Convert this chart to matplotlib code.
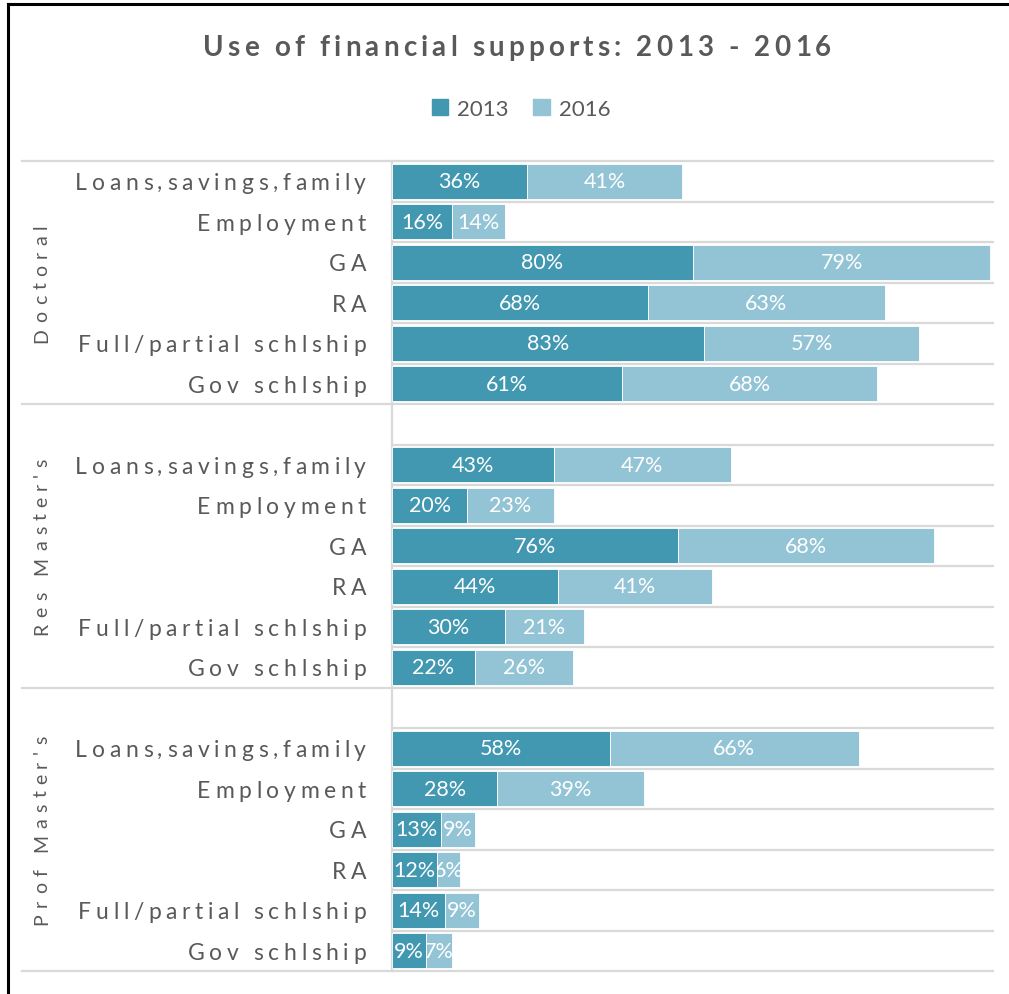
import matplotlib
matplotlib.use("Agg")
import matplotlib.pyplot as plt
import matplotlib.transforms as mtransforms
from matplotlib.font_manager import FontProperties
from matplotlib.patches import Patch
from matplotlib.lines import Line2D

groups = ["Doctoral", "Res Master's", "Prof Master's"]
categories = ["Loans,savings,family", "Employment", "GA", "RA",
              "Full/partial schlship", "Gov schlship"]
years = ["2013", "2016"]

doctoral_2013 = [36, 16, 80, 68, 83, 61]
doctoral_2016 = [41, 14, 79, 63, 57, 68]
res_2013 = [43, 20, 76, 44, 30, 22]
res_2016 = [47, 23, 68, 41, 21, 26]
prof_2013 = [58, 28, 13, 12, 14, 9]
prof_2016 = [66, 39, 9, 6, 9, 7]

title = "Use of financial supports: 2013 - 2016"

DARK = "#4198B0"
LIGHT = "#93C4D5"
TEXT = "#595959"
GRID = "#D9D9D9"

plt.rcParams["font.family"] = ["Lato", "DejaVu Sans"]

W, H, DPI = 1009, 995, 100
fig = plt.figure(figsize=(W / DPI, H / DPI), dpi=DPI)
renderer = fig.canvas.get_renderer()

ax = fig.add_axes([392 / W, 23 / H, 602 / W, 810 / H])
ax.set_xlim(0, 160)
ax.set_ylim(20, 0)
ax.set_xticks([])
ax.set_yticks([])
for side in ["top", "right", "bottom"]:
    ax.spines[side].set_visible(False)
ax.spines["left"].set_color(GRID)
ax.spines["left"].set_linewidth(1.6)

label_fp = FontProperties(family="Lato", size=15.5)


def add_value_label(rect, value):
    x = rect.get_x() + rect.get_width() / 2
    y = rect.get_y() + rect.get_height() / 2
    t = ax.text(x, y, f"{value}%", ha="center", va="center",
                color="white", fontproperties=label_fp, zorder=4)
    t.set_clip_box(mtransforms.TransformedBbox(rect.get_bbox(), ax.transData))
    t.set_clip_on(True)


series = [(doctoral_2013, doctoral_2016), (res_2013, res_2016),
          (prof_2013, prof_2016)]
for gi, (v13, v16) in enumerate(series):
    rows = [gi * 7 + i + 0.5 for i in range(len(categories))]
    bars13 = ax.barh(rows, v13, height=0.86, color=DARK,
                     edgecolor="white", linewidth=0.6, zorder=3)
    bars16 = ax.barh(rows, v16, left=v13, height=0.86, color=LIGHT,
                     edgecolor="white", linewidth=0.6, zorder=3)
    for rect, v in zip(bars13, v13):
        add_value_label(rect, v)
    for rect, v in zip(bars16, v16):
        add_value_label(rect, v)

# row separators across the plot area
ax.hlines(range(21), 0, 160, color=GRID, linewidth=1.6, zorder=1,
          clip_on=False)

# group separators run on into the label column
lab_trans = mtransforms.blended_transform_factory(fig.transFigure, ax.transData)
for yb in [0, 6, 13, 20]:
    ax.plot([22 / W, 392 / W], [yb, yb], transform=lab_trans, color=GRID,
            linewidth=1.6, clip_on=False, zorder=1)


def advance(text, fp):
    w_ref = renderer.get_text_width_height_descent("||", fp, ismath=False)[0]
    w = renderer.get_text_width_height_descent("|" + text + "|", fp,
                                               ismath=False)[0]
    return w - w_ref


def spaced_text(x, y, trans, s, fp, track, align="right", vertical=False,
                base_shift=0.0, color=TEXT):
    widths = [advance(c, fp) for c in s]
    total = sum(widths) + track * (len(s) - 1)
    if align == "right":
        pos = -total
    elif align == "center":
        pos = -total / 2
    else:
        pos = 0.0
    for c, w in zip(s, widths):
        if vertical:
            off = mtransforms.offset_copy(trans, fig=fig, x=base_shift, y=pos,
                                          units="dots")
            rot = 90
        else:
            off = mtransforms.offset_copy(trans, fig=fig, x=pos, y=base_shift,
                                          units="dots")
            rot = 0
        fig.text(x, y, c, transform=off, fontproperties=fp, color=color,
                 ha="left", va="baseline", rotation=rot,
                 rotation_mode="anchor")
        pos += w + track


cat_fp = FontProperties(family="Lato", size=16.5)
for gi in range(len(groups)):
    for ci, cat in enumerate(categories):
        spaced_text(366 / W, gi * 7 + ci + 0.5, lab_trans, cat, cat_fp,
                    track=4.6, align="right", base_shift=-8)

grp_fp = FontProperties(family="Lato", size=14)
for name, yc in zip(groups, [3, 9.5, 16.5]):
    spaced_text(47 / W, yc, lab_trans, name, grp_fp, track=6.2,
                align="center", vertical=True)

title_fp = FontProperties(family="Lato", size=20, weight="bold")
spaced_text(517 / W, (H - 56) / H, fig.transFigure, title, title_fp,
            track=4.2, align="center")

fig.legend(handles=[Patch(color=DARK), Patch(color=LIGHT)], labels=years,
           loc="center", bbox_to_anchor=(521 / W, (H - 110) / H), ncol=2,
           frameon=False, fontsize=16, labelcolor=TEXT, handlelength=0.75,
           handleheight=0.75, handletextpad=0.4, columnspacing=1.1)

# outer frame edges
fig.add_artist(Line2D([8 / W, 8 / W], [0, (H - 5) / H], color="black",
                      linewidth=2.2, transform=fig.transFigure))
fig.add_artist(Line2D([8 / W, 1], [(H - 5) / H, (H - 5) / H], color="black",
                      linewidth=2.2, transform=fig.transFigure))

fig.savefig("out.png", dpi=DPI, facecolor="white")
